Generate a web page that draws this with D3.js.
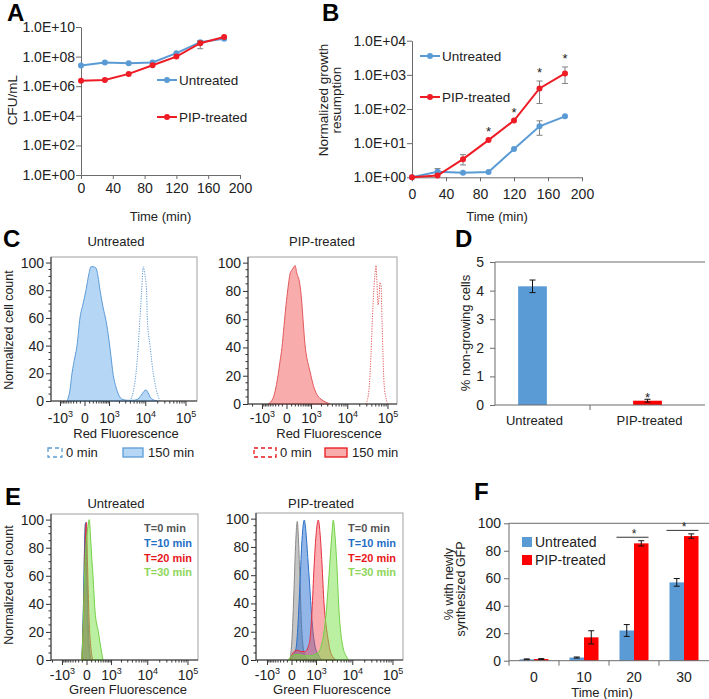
<!DOCTYPE html>
<html><head><meta charset="utf-8">
<script src="https://cdn.jsdelivr.net/npm/d3@7"></script>
<style>body{margin:0;background:#fff}svg{display:block}</style>
</head><body>
<script>
// ================= DATA =================
// Panel A
const timePoints = [0, 30, 60, 90, 120, 150, 180];
const timeTicks = [0, 40, 80, 120, 160, 200];
const cfuTicks = [1e0, 1e2, 1e4, 1e6, 1e8, 1e10];
const cfuUntreated = [2.5e7, 4.0e7, 3.6e7, 4.0e7, 1.7e8, 9.5e8, 1.6e9];
const cfuUntreatedLow = [2.5e7, 4.0e7, 3.6e7, 4.0e7, 1.7e8, 8.5e8, 1.6e9];
const cfuUntreatedHigh = [2.5e7, 4.0e7, 3.6e7, 4.0e7, 1.7e8, 1.05e9, 1.6e9];
const cfuPip = [2.3e6, 2.6e6, 6.8e6, 2.6e7, 1.0e8, 8.0e8, 2.1e9];
const cfuPipLow = [2.3e6, 2.6e6, 6.8e6, 2.6e7, 1.0e8, 3.4e8, 2.1e9];
const cfuPipHigh = [2.3e6, 2.6e6, 6.8e6, 2.6e7, 1.0e8, 1.2e9, 2.1e9];
// Panel B
const growthTicks = [1, 10, 100, 1000, 10000];
const growthUntreated = [1, 1.45, 1.36, 1.43, 6.7, 31, 61];
const growthUntreatedLow = [1, 1.2, 1.36, 1.43, 6.7, 17, 61];
const growthUntreatedHigh = [1, 1.8, 1.36, 1.43, 6.7, 45, 61];
const growthPip = [1, 1.12, 3.4, 12.3, 46, 400, 1100];
const growthPipLow = [1, 1.12, 2.3, 12.3, 46, 145, 560];
const growthPipHigh = [1, 1.12, 4.6, 12.3, 46, 660, 1700];
const growthSignificant = [90, 120, 150, 180];
// Panels C & E (flow histograms): [fluorescence, normalized count]
const flowTicks = [-1e3, 0, 1e3, 1e4, 1e5];
const flowTickBase = ["-10", "0", "10", "10", "10"];
const flowTickExp = ["3", "", "3", "4", "5"];
const countTicks = [0, 20, 40, 60, 80, 100];
const redUntreated0 = [[3906,0],[4689,6],[5617,20],[6444,40],[7126,60],[7879,80],[8660,97],[9288,93],[10437,80],[10937,60],[12791,40],[15492,20],[18096,9],[22777,0]];
const redUntreated150 = [[-588,0],[-445,8],[-361,20],[-253,32],[-190,40],[-109,60],[-40,70],[19,80],[84,92],[134,97],[190,97],[287,96],[361,90],[445,80],[588,68],[758,58],[960,44],[1115,32],[1288,20],[1588,10],[1943,4],[2520,1],[3453,0.5],[4689,0.5],[5961,1],[7563,4],[9018,7],[10137,8],[11389,6],[12791,3],[15224,1],[19167,0]];
const redPip0 = [[28640,0],[33960,10],[38090,35],[42700,70],[47850,92],[50650,98],[53650,85],[56750,70],[60070,75],[63570,86],[67300,84],[71230,60],[75390,35],[79790,15],[89380,4],[100070,0]];
const redPip150 = [[-642,0],[-402,4],[-287,12],[-221,20],[-162,30],[-109,40],[-62,55],[-19,70],[19,82],[62,92],[109,95],[162,97],[190,98],[253,92],[323,88],[361,84],[445,70],[490,60],[588,42],[699,32],[822,26],[960,20],[1115,14],[1382,8],[1817,4],[2364,2],[3453,0]];
const greenUntreatedT0 = [[-109,0],[-73,40],[-51,80],[-34,97],[-19,80],[0,40],[19,15],[51,3],[84,0]];
const greenUntreatedT10 = [[-109,0],[-73,40],[-44,85],[-23,98],[-4,70],[19,30],[51,8],[84,0]];
const greenUntreatedT20 = [[-109,0],[-62,40],[-29,90],[-9,98],[9,70],[40,30],[84,8],[134,0]];
const greenUntreatedT30 = [[-121,0],[-84,20],[-62,45],[-44,65],[-19,82],[19,95],[46,100],[73,88],[109,70],[134,60],[190,35],[300,20],[432,5],[490,0]];
const greenPipT0 = [[-40,0],[0,15],[40,50],[73,80],[116,98],[148,85],[190,55],[237,25],[287,10],[361,3],[490,0]];
const greenPipT10 = [[-40,0],[19,3],[84,8],[134,25],[190,55],[253,85],[334,99],[402,90],[490,70],[562,55],[642,38],[758,20],[889,10],[1115,4],[1482,0]];
const greenPipT20 = [[-40,0],[19,5],[109,7],[221,6],[361,6],[490,9],[588,15],[699,35],[822,65],[960,88],[1140,99],[1288,90],[1482,68],[1700,40],[1943,25],[2215,15],[2520,7],[3048,2],[3673,0]];
const greenPipT30 = [[-84,0],[0,3],[134,4],[323,3],[588,3],[889,4],[1199,6],[1482,12],[1700,20],[1943,32],[2215,50],[2520,70],[2862,90],[3106,99],[3453,88],[3906,65],[4412,35],[4982,18],[5617,9],[6717,3],[8019,0]];
const timeLegend = ["T=0 min", "T=10 min", "T=20 min", "T=30 min"];
// Panel D
const nonGrowingGroups = ["Untreated", "PIP-treated"];
const nonGrowingPct = [4.15, 0.15];
const nonGrowingErr = [0.22, 0.05];
const nonGrowingTicks = [0, 1, 2, 3, 4, 5];
// Panel F
const gfpTimes = ["0", "10", "20", "30"];
const gfpUntreated = [1.0, 2.3, 22, 57];
const gfpUntreatedErr = [0.3, 0.4, 4.3, 2.8];
const gfpPip = [1.2, 17, 85.4, 90.7];
const gfpPipErr = [0.3, 4.8, 1.9, 1.6];
const gfpSignificant = ["20", "30"];
const gfpTicks = [0, 20, 40, 60, 80, 100];

// ================= STYLE =================
const FF = "'Liberation Sans', Arial, Helvetica, sans-serif";
const BLUE = "#5b9bd5", RED = "#ee1c25", BARRED = "#ff0000", AXIS = "#6b6b6b", ERR = "#808080";
const svg = d3.select("body").append("svg").attr("width", 709).attr("height", 699);

function label(x, y, str, o = {}) {
  const t = svg.append("text").attr("x", x).attr("y", y).text(str)
    .attr("font-family", FF).attr("font-size", o.size || 13)
    .attr("fill", o.color || "#222").attr("text-anchor", o.anchor || "start");
  if (o.weight) t.attr("font-weight", o.weight);
  if (o.rotate) t.attr("transform", `rotate(-90,${x},${y})`);
  return t;
}
function styleAxis(g, size, line = AXIS, color = "#222") {
  g.attr("font-family", FF).attr("font-size", size);
  g.selectAll("text").attr("fill", color);
  g.selectAll("line").attr("stroke", line);
  g.selectAll("path").attr("stroke", line);
}
// panel letters
[["A", 7, 21], ["B", 322, 21], ["C", 3, 247], ["D", 455, 247], ["E", 5, 505], ["F", 474, 500]]
  .forEach(([s, x, y]) => label(x, y, s, { size: 24, weight: "bold", color: "#000" }));

// ================= LINE PANELS (A, B) =================
function linePanel(cfg) {
  const x = d3.scaleLinear().domain([0, 200]).range([cfg.left, cfg.right]);
  const y = d3.scaleLog().domain(cfg.yDomain).range([cfg.bottom, cfg.top]);
  const gx = svg.append("g").attr("transform", `translate(0,${cfg.bottom})`)
    .call(d3.axisBottom(x).tickValues(timeTicks).tickSize(4).tickPadding(cfg.xPad).tickSizeOuter(0));
  styleAxis(gx, 14);
  const gy = svg.append("g").attr("transform", `translate(${cfg.left},0)`)
    .call(d3.axisLeft(y).tickValues(cfg.yTicks).tickSize(5).tickPadding(1).tickSizeOuter(0)
      .tickFormat(d => "1.0E+" + String(Math.round(Math.log10(d))).padStart(2, "0")));
  styleAxis(gy, 14);
  const series = [
    { v: cfg.u, lo: cfg.uLo, hi: cfg.uHi, c: BLUE, name: "Untreated" },
    { v: cfg.p, lo: cfg.pLo, hi: cfg.pHi, c: RED, name: "PIP-treated" }];
  series.forEach(s => {
    const g = svg.append("g");
    const errIdx = timePoints.map((t, i) => i).filter(i => s.hi[i] !== s.lo[i]);
    g.selectAll(".e").data(errIdx).join("path")
      .attr("d", i => `M${x(timePoints[i])},${y(s.lo[i])}V${y(s.hi[i])}M${x(timePoints[i]) - 3},${y(s.lo[i])}h6M${x(timePoints[i]) - 3},${y(s.hi[i])}h6`)
      .attr("stroke", ERR).attr("stroke-width", 1).attr("fill", "none");
    g.append("path").datum(s.v).attr("fill", "none").attr("stroke", s.c).attr("stroke-width", 2)
      .attr("d", d3.line().x((d, i) => x(timePoints[i])).y(d => y(d)));
    g.selectAll("circle").data(s.v).join("circle").attr("cx", (d, i) => x(timePoints[i])).attr("cy", d => y(d))
      .attr("r", 3).attr("fill", s.c);
  });
  // legend
  series.forEach((s, k) => {
    const ly = cfg.legY[k];
    svg.append("line").attr("x1", cfg.legX).attr("x2", cfg.legX + 20).attr("y1", ly).attr("y2", ly)
      .attr("stroke", s.c).attr("stroke-width", 2);
    svg.append("circle").attr("cx", cfg.legX + 10).attr("cy", ly).attr("r", 3).attr("fill", s.c);
    label(cfg.legX + 22, ly + 5, s.name, { size: 13.5 });
  });
  label((cfg.left + cfg.right) / 2, 221, "Time (min)", { size: 13, anchor: "middle" });
  return { x, y };
}
linePanel({ left: 81, right: 240, top: 27, bottom: 175, yDomain: [1, 1e10], yTicks: cfuTicks, xPad: 4,
  u: cfuUntreated, uLo: cfuUntreatedLow, uHi: cfuUntreatedHigh, p: cfuPip, pLo: cfuPipLow, pHi: cfuPipHigh,
  legX: 157, legY: [80, 117] });
label(16.5, 100, "CFU/mL", { size: 13.5, anchor: "middle", rotate: true });

const B = linePanel({ left: 412, right: 582, top: 40.7, bottom: 177.3, yDomain: [1, 1e4], yTicks: growthTicks, xPad: 8,
  u: growthUntreated, uLo: growthUntreatedLow, uHi: growthUntreatedHigh, p: growthPip, pLo: growthPipLow, pHi: growthPipHigh,
  legX: 420, legY: [56, 97] });
growthSignificant.forEach(t => {
  const i = timePoints.indexOf(t);
  const top = B.y(Math.max(growthPipHigh[i], growthPip[i]));
  label(B.x(t), top - 4, "*", { size: 13, anchor: "middle", color: "#222" });
});
label(328, 100, "Normalized growth", { size: 13.5, anchor: "middle", rotate: true });
label(341, 100, "resumption", { size: 13.5, anchor: "middle", rotate: true });

// ================= FLOW PANELS (C, E) =================
function fluoScale(left, zero, right) {
  const c = 333, k = 17.69;
  const inv = p => { const u = (p - zero) / k; return Math.sign(u) * c * (Math.exp(Math.abs(u)) - 1); };
  return d3.scaleSymlog().constant(c).domain([inv(left), inv(right)]).range([left, right]);
}
const minorFlow = [].concat(d3.range(-900, 1000, 100).filter(v => v !== 0), d3.range(2000, 10000, 1000),
  d3.range(20000, 100000, 10000), [-2000]);
function flowPanel(cfg) {
  const x = fluoScale(cfg.left, cfg.zero, cfg.right);
  const y = d3.scaleLinear().domain([0, 104]).range([cfg.bottom, cfg.top]);
  const g = svg.append("g");
  g.append("rect").attr("x", cfg.left).attr("y", cfg.top).attr("width", cfg.right - cfg.left)
    .attr("height", cfg.bottom - cfg.top).attr("fill", "#fff").attr("stroke", "#a0a0a0");
  const area = d3.area().x(d => x(d[0])).y0(y(0)).y1(d => y(d[1])).curve(d3.curveMonotoneX);
  const line = d3.line().x(d => x(d[0])).y(d => y(d[1])).curve(d3.curveMonotoneX);
  cfg.curves.forEach(c => {
    if (c.fill) g.append("path").datum(c.data).attr("d", area).attr("fill", c.fill).attr("stroke", c.stroke).attr("stroke-width", 1);
    else g.append("path").datum(c.data).attr("d", line).attr("fill", "none").attr("stroke", c.stroke)
      .attr("stroke-width", 1).attr("stroke-dasharray", "1.2,1.3");
  });
  // axes
  g.append("path").attr("d", `M${cfg.left},${cfg.top}V${cfg.bottom}H${cfg.right}`).attr("stroke", "#333").attr("fill", "none");
  const gy = g.append("g").attr("transform", `translate(${cfg.left},0)`)
    .call(d3.axisLeft(y).tickValues(countTicks).tickSize(5).tickPadding(2).tickSizeOuter(0));
  gy.select(".domain").remove();
  styleAxis(gy, 14, "#333");
  g.selectAll(".ym").data(d3.range(5, 104, 5).filter(v => v % 20)).join("line")
    .attr("x1", cfg.left - 2.5).attr("x2", cfg.left).attr("y1", d => y(d)).attr("y2", d => y(d)).attr("stroke", "#333");
  g.selectAll(".xm").data(minorFlow.filter(v => x(v) >= cfg.left && x(v) <= cfg.right)).join("line")
    .attr("x1", d => x(d)).attr("x2", d => x(d)).attr("y1", cfg.bottom).attr("y2", cfg.bottom + 2.5).attr("stroke", "#333");
  g.selectAll(".xM").data(flowTicks.filter(v => x(v) <= cfg.right + 0.5)).join("line")
    .attr("x1", d => x(d)).attr("x2", d => x(d)).attr("y1", cfg.bottom).attr("y2", cfg.bottom + 5).attr("stroke", "#333");
  flowTicks.forEach((v, i) => {
    const t = g.append("text").attr("x", x(v)).attr("y", cfg.tickY).attr("text-anchor", "middle")
      .attr("font-family", FF).attr("font-size", 14).attr("fill", "#222");
    t.append("tspan").text(flowTickBase[i]);
    if (flowTickExp[i]) t.append("tspan").attr("dy", -6).attr("font-size", 9).text(flowTickExp[i]);
  });
  label(cfg.titleX, cfg.titleY, cfg.title, { size: 13, anchor: "middle" });
  label(cfg.xTitleX, cfg.xTitleY, cfg.xTitle, { size: 13, anchor: "middle" });
  return { x, y };
}
const LBLUE = "#b6d6f6", LRED = "#f8acac";
flowPanel({ left: 51, right: 197, top: 257, bottom: 401, zero: 85, tickY: 423, title: "Untreated", titleX: 116, titleY: 246,
  xTitle: "Red Fluorescence", xTitleX: 126, xTitleY: 438,
  curves: [{ data: redUntreated150, fill: LBLUE, stroke: "#5b9bd5" }, { data: redUntreated0, stroke: "#5b9bd5" }] });
flowPanel({ left: 248, right: 397, top: 257, bottom: 404, zero: 287, tickY: 423, title: "PIP-treated", titleX: 322, titleY: 246,
  xTitle: "Red Fluorescence", xTitleX: 329, xTitleY: 438,
  curves: [{ data: redPip150, fill: LRED, stroke: "#e2595d" }, { data: redPip0, stroke: "#e8585c" }] });
label(12.5, 330, "Normalized cell count", { size: 12.5, anchor: "middle", rotate: true });
// C legends
function flowLegend(x0, w0, x1, w1, stroke, fill) {
  svg.append("rect").attr("x", x0).attr("y", 448).attr("width", w0).attr("height", 9).attr("fill", "none")
    .attr("stroke", stroke).attr("stroke-width", 1.3).attr("stroke-dasharray", "4,3");
  label(x0 + w0 + 4, 457, "0 min", { size: 13 });
  svg.append("rect").attr("x", x1).attr("y", 448).attr("width", w1).attr("height", 9).attr("fill", fill)
    .attr("stroke", stroke).attr("stroke-width", 1.3);
  label(x1 + w1 + 5, 457, "150 min", { size: 13 });
}
flowLegend(48, 14, 123, 20, "#5b9bd5", LBLUE);
flowLegend(254, 22, 325, 22, "#e8161b", LRED);

const greenCols = [
  { fill: "rgba(150,150,150,0.55)", stroke: "#8a8a8a", text: "#555555" },
  { fill: "rgba(40,110,210,0.5)", stroke: "#2a6fc9", text: "#1f6fc5" },
  { fill: "rgba(245,70,80,0.45)", stroke: "#e53040", text: "#e8161b" },
  { fill: "rgba(120,225,70,0.5)", stroke: "#74d047", text: "#8dd65a" }];
function eCurves(arrs) { return arrs.map((a, i) => ({ data: a, fill: greenCols[i].fill, stroke: greenCols[i].stroke })); }
flowPanel({ left: 51, right: 198, top: 514, bottom: 660, zero: 87, tickY: 680, title: "Untreated", titleX: 116, titleY: 507.5,
  xTitle: "Green Fluorescence", xTitleX: 128, xTitleY: 694,
  curves: eCurves([greenUntreatedT0, greenUntreatedT10, greenUntreatedT20, greenUntreatedT30]) });
flowPanel({ left: 256, right: 403, top: 513, bottom: 660, zero: 292, tickY: 680, title: "PIP-treated", titleX: 321, titleY: 507.5,
  xTitle: "Green Fluorescence", xTitleX: 332, xTitleY: 694,
  curves: eCurves([greenPipT0, greenPipT10, greenPipT20, greenPipT30]) });
label(12.5, 585, "Normalized cell count", { size: 12.5, anchor: "middle", rotate: true });
[144, 348].forEach(lx => timeLegend.forEach((s, i) =>
  label(lx, 532 + i * 14.8, s, { size: 11, weight: "bold", color: greenCols[i].text })));

// ================= PANEL D =================
{
  const L = 495, R = 705, T = 262, Bt = 405;
  const y = d3.scaleLinear().domain([0, 5]).range([Bt, T]);
  const x = d3.scaleBand().domain(nonGrowingGroups).range([475, 705]).paddingInner(0.75).paddingOuter(0.375);
  const g = svg.append("g");
  g.selectAll("rect").data(nonGrowingGroups).join("rect").attr("x", d => x(d)).attr("width", x.bandwidth())
    .attr("y", (d, i) => y(nonGrowingPct[i])).attr("height", (d, i) => y(0) - y(nonGrowingPct[i]))
    .attr("fill", (d, i) => i ? BARRED : BLUE);
  g.selectAll(".err").data(nonGrowingGroups).join("path").attr("fill", "none").attr("stroke", "#111")
    .attr("d", (d, i) => { const cx = x(d) + x.bandwidth() / 2, a = y(nonGrowingPct[i] - nonGrowingErr[i]), b = y(nonGrowingPct[i] + nonGrowingErr[i]);
      return `M${cx},${a}V${b}M${cx - 3},${a}h6M${cx - 3},${b}h6`; });
  g.append("path").attr("d", `M${R},${T}H${L}V${Bt}H${R}`).attr("fill", "none").attr("stroke", AXIS);
  const gy = g.append("g").attr("transform", `translate(${L},0)`)
    .call(d3.axisLeft(y).tickValues(nonGrowingTicks).tickFormat(d3.format("d")).tickSize(5).tickPadding(6).tickSizeOuter(0));
  gy.select(".domain").remove();
  styleAxis(gy, 14);
  const mid = (x(nonGrowingGroups[0]) + x(nonGrowingGroups[1]) + x.bandwidth()) / 2;
  g.append("line").attr("x1", mid).attr("x2", mid).attr("y1", Bt).attr("y2", Bt + 5).attr("stroke", AXIS);
  nonGrowingGroups.forEach(d => label(x(d) + x.bandwidth() / 2 + 2, 424.5, d, { size: 13, anchor: "middle" }));
  label(x(nonGrowingGroups[1]) + x.bandwidth() / 2, y(nonGrowingPct[1] + nonGrowingErr[1]) + 3, "*", { size: 13, anchor: "middle" });
  label(470, 333, "% non-growing cells", { size: 13, anchor: "middle", rotate: true });
}

// ================= PANEL F =================
{
  const L = 509, R = 709, T = 523.3, Bt = 660.7;
  const y = d3.scaleLinear().domain([0, 100]).range([Bt, T]);
  const x = d3.scaleBand().domain(gfpTimes).range([L, R]).paddingInner(0.42).paddingOuter(0.21);
  const series = [{ name: "Untreated", v: gfpUntreated, e: gfpUntreatedErr, c: BLUE },
                  { name: "PIP-treated", v: gfpPip, e: gfpPipErr, c: BARRED }];
  const xs = d3.scaleBand().domain(series.map(s => s.name)).range([0, x.bandwidth()]);
  const g = svg.append("g");
  series.forEach(s => {
    g.selectAll(null).data(gfpTimes).join("rect").attr("x", d => x(d) + xs(s.name)).attr("width", xs.bandwidth())
      .attr("y", (d, i) => y(s.v[i])).attr("height", (d, i) => y(0) - y(s.v[i])).attr("fill", s.c);
    g.selectAll(null).data(gfpTimes).join("path").attr("fill", "none").attr("stroke", "#111")
      .attr("d", (d, i) => { const cx = x(d) + xs(s.name) + xs.bandwidth() / 2, a = y(s.v[i] - s.e[i]), b = y(s.v[i] + s.e[i]);
        return `M${cx},${a}V${b}M${cx - 3},${a}h6M${cx - 3},${b}h6`; });
  });
  g.append("path").attr("d", `M${R},${T}H${L}V${Bt}H${R}`).attr("fill", "none").attr("stroke", AXIS);
  const gy = g.append("g").attr("transform", `translate(${L},0)`)
    .call(d3.axisLeft(y).tickValues(gfpTicks).tickSize(5).tickPadding(3).tickSizeOuter(0));
  gy.select(".domain").remove();
  styleAxis(gy, 14);
  g.selectAll(".bt").data(gfpTimes).join("line")
    .attr("x1", d => x(d) + x.bandwidth() / 2 - x.step() / 2).attr("x2", d => x(d) + x.bandwidth() / 2 - x.step() / 2)
    .attr("y1", Bt).attr("y2", Bt + 5).attr("stroke", AXIS);
  gfpTimes.forEach(d => label(x(d) + x.bandwidth() / 2, 682, d, { size: 14, anchor: "middle" }));
  label(602, 697, "Time (min)", { size: 13, anchor: "middle" });
  gfpSignificant.forEach(d => {
    const i = gfpTimes.indexOf(d);
    const ly = y(gfpPip[i] + gfpPipErr[i]) - 3.5;
    g.append("line").attr("x1", x(d) - 3).attr("x2", x(d) + x.bandwidth()).attr("y1", ly).attr("y2", ly).attr("stroke", "#333");
    label(x(d) + x.bandwidth() / 2, ly + 1, "*", { size: 12, anchor: "middle" });
  });
  series.forEach((s, k) => {
    g.append("rect").attr("x", 522).attr("y", 537 + k * 18).attr("width", 10).attr("height", 10).attr("fill", s.c);
    label(535, 547 + k * 18, s.name, { size: 14 });
  });
  label(452.5, 584, "% with newly", { size: 12.5, anchor: "middle", rotate: true });
  label(465, 589, "synthesized GFP", { size: 12.5, anchor: "middle", rotate: true });
}
</script>
</body></html>
